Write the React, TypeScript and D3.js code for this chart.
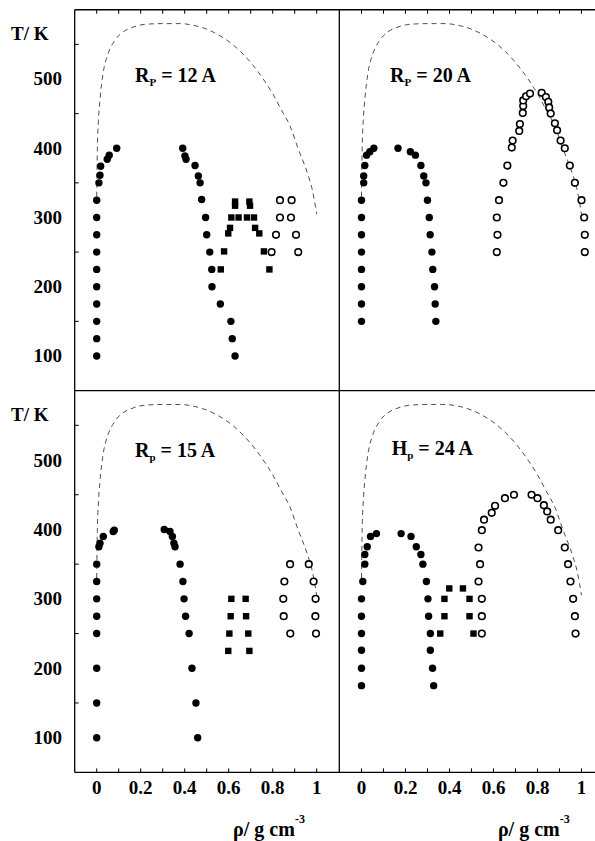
import React from "react";
import * as d3 from "d3";

// bulk coexistence curve (dashed), rho / g cm-3 vs T / K
const bulkCurve: [number, number][] = [
  [0, 330], [0.003, 400], [0.008, 440], [0.015, 470], [0.03, 510], [0.05, 535],
  [0.083, 556], [0.12, 568], [0.166, 575], [0.22, 579], [0.3, 580], [0.38, 580],
  [0.447, 577], [0.5, 572], [0.546, 565], [0.621, 549], [0.697, 525], [0.757, 500],
  [0.803, 477], [0.84, 455], [0.879, 432], [0.915, 400], [0.96, 362], [0.98, 340],
  [1.0, 305],
];

// R_P = 12 A
const r12Filled: [number, number][] = [
  [0, 100], [0, 125], [0, 150], [0, 175], [0, 200], [0, 225], [0, 250], [0, 275],
  [0, 300], [0, 325], [0.01, 350], [0.015, 361], [0.018, 374], [0.048, 384],
  [0.057, 390], [0.091, 400],
  [0.391, 400], [0.401, 389], [0.406, 384], [0.447, 375], [0.462, 360], [0.47, 350],
  [0.477, 326], [0.495, 300], [0.5, 275], [0.514, 250], [0.523, 225], [0.524, 200],
  [0.562, 175], [0.61, 150], [0.616, 125], [0.629, 100],
];
const r12Squares: [number, number][] = [
  [0.629, 323], [0.629, 317], [0.694, 323], [0.697, 317], [0.612, 300], [0.645, 300],
  [0.683, 300], [0.715, 300], [0.606, 285], [0.72, 285], [0.598, 277], [0.739, 277],
  [0.579, 251], [0.76, 251], [0.564, 225], [0.785, 225],
];
const r12Open: [number, number][] = [
  [0.833, 325], [0.886, 325], [0.833, 300], [0.883, 300], [0.815, 275], [0.906, 275],
  [0.795, 250], [0.916, 250],
];

// R_P = 20 A
const r20Filled: [number, number][] = [
  [0, 150], [0, 175], [0, 200], [0, 225], [0, 250], [0, 275], [0, 300], [0, 325],
  [0.01, 350], [0.01, 360], [0.015, 375], [0.023, 390], [0.038, 395], [0.056, 400],
  [0.166, 400], [0.222, 395], [0.245, 390], [0.27, 375], [0.283, 360], [0.293, 350],
  [0.3, 325], [0.308, 300], [0.312, 275], [0.32, 250], [0.324, 225], [0.332, 200],
  [0.335, 175], [0.338, 150],
];
const r20Open: [number, number][] = [
  [0.615, 250], [0.618, 275], [0.615, 300], [0.625, 325], [0.645, 350], [0.663, 375],
  [0.683, 401], [0.687, 411], [0.717, 425], [0.72, 435], [0.733, 451], [0.735, 461],
  [0.735, 469], [0.748, 475], [0.766, 479],
  [0.819, 480], [0.838, 474], [0.849, 467], [0.853, 459], [0.86, 450], [0.879, 436],
  [0.889, 426], [0.905, 411], [0.924, 400], [0.947, 375], [0.97, 350], [1.0, 325],
  [1.012, 300], [1.015, 275], [1.015, 250],
];

// R_p = 15 A
const r15Filled: [number, number][] = [
  [0, 100], [0, 150], [0, 200], [0, 250], [0, 275], [0, 300], [0, 325], [0, 350],
  [0.01, 375], [0.015, 380], [0.03, 390], [0.075, 397], [0.08, 399],
  [0.307, 400], [0.333, 397], [0.344, 390], [0.351, 380], [0.356, 375], [0.379, 350],
  [0.392, 325], [0.397, 300], [0.404, 275], [0.42, 250], [0.433, 200], [0.451, 150],
  [0.459, 100],
];
const r15Squares: [number, number][] = [
  [0.612, 300], [0.677, 300], [0.609, 275], [0.679, 275], [0.603, 250], [0.689, 250],
  [0.598, 225], [0.694, 225],
];
const r15Open: [number, number][] = [
  [0.879, 350], [0.964, 350], [0.853, 325], [0.986, 325], [0.848, 300], [0.995, 300],
  [0.85, 275], [0.994, 275], [0.88, 250], [0.997, 250],
];

// H_p = 24 A
const h24Filled: [number, number][] = [
  [0, 175], [0, 200], [0, 226], [0, 250], [0, 275], [0, 300], [0.006, 325],
  [0.015, 350], [0.015, 364], [0.026, 375], [0.041, 390], [0.068, 394],
  [0.18, 394], [0.225, 390], [0.249, 375], [0.27, 364], [0.279, 350], [0.295, 325],
  [0.302, 300], [0.305, 275], [0.313, 250], [0.313, 226], [0.323, 200], [0.328, 175],
];
const h24Squares: [number, number][] = [
  [0.399, 315], [0.461, 315], [0.377, 300], [0.491, 300], [0.377, 275], [0.491, 275],
  [0.358, 250], [0.509, 250],
];
const h24Open: [number, number][] = [
  [0.547, 250], [0.547, 275], [0.547, 300], [0.532, 325], [0.539, 350], [0.532, 374],
  [0.547, 399], [0.557, 414], [0.592, 424], [0.607, 434], [0.652, 445], [0.693, 450],
  [0.773, 450], [0.8, 445], [0.829, 435], [0.844, 426], [0.86, 414], [0.894, 399],
  [0.924, 374], [0.939, 350], [0.95, 325], [0.962, 300], [0.97, 275], [0.973, 250],
];

const rhoTicks = [0, 0.1, 0.2, 0.3, 0.4, 0.5, 0.6, 0.7, 0.8, 0.9, 1.0];
const rhoLabels = [0, 0.2, 0.4, 0.6, 0.8, 1];
const tempLabels = [100, 200, 300, 400, 500];
const tempTicks = [150, 250, 350, 450, 550];

const FONT = "'Liberation Serif', 'Times New Roman', Times, serif";
const LEFT = 74.7;
const COL_W = 264.8;
const ROWS = [
  [390.6, 9.75],
  [772.4, 390.6],
];

type Pt = [number, number];

function Panel(props: {
  col: number;
  row: number;
  filled: Pt[];
  squares: Pt[];
  open: Pt[];
  head: string;
  sub: string;
  tail: string;
  titleAt: Pt;
}) {
  const { col, row, filled, squares, open, head, sub, tail, titleAt } = props;
  const x = d3
    .scaleLinear()
    .domain([-0.1, 1.1])
    .range([LEFT + col * COL_W, LEFT + col * COL_W + 264]);
  const y = d3.scaleLinear().domain([50, 600]).range(ROWS[row]);
  const line = d3
    .line<Pt>()
    .x((d) => x(d[0]))
    .y((d) => y(d[1]))
    .curve(d3.curveMonotoneX);

  return (
    <g>
      {row === 0
        ? rhoTicks.map((t) => (
            <line key={"tt" + t} x1={x(t)} x2={x(t)} y1={y(600)} y2={y(600) + 4} stroke="#000" strokeWidth={1} />
          ))
        : rhoTicks.map((t) => (
            <line key={"bt" + t} x1={x(t)} x2={x(t)} y1={y(50)} y2={y(50) - 4} stroke="#000" strokeWidth={1} />
          ))}
      {row === 1 &&
        rhoLabels.map((t) => (
          <text key={"bl" + t} x={x(t)} y={y(50) + 22} textAnchor="middle" fontFamily={FONT} fontWeight="bold" fontSize={19}>
            {String(t)}
          </text>
        ))}
      {col === 0 &&
        tempTicks.map((t) => (
          <line key={"lt" + t} x1={x(-0.1)} x2={x(-0.1) + 4} y1={y(t)} y2={y(t)} stroke="#000" strokeWidth={1} />
        ))}
      {col === 0 &&
        tempLabels.map((t) => (
          <text key={"ll" + t} x={62} y={y(t) + 6.5} textAnchor="end" fontFamily={FONT} fontWeight="bold" fontSize={19}>
            {t}
          </text>
        ))}
      {col === 0 && (
        <text x={11} y={y(565) + 6.5} fontFamily={FONT} fontWeight="bold" fontSize={19}>
          T/ K
        </text>
      )}
      <path d={line(bulkCurve) || ""} fill="none" stroke="#222" strokeWidth={0.8} strokeDasharray="5,4" />
      {filled.map((d, i) => (
        <circle key={"f" + i} cx={x(d[0])} cy={y(d[1])} r={3.7} fill="#000" />
      ))}
      {squares.map((d, i) => (
        <rect key={"s" + i} x={x(d[0]) - 3.2} y={y(d[1]) - 3.2} width={6.4} height={6.4} fill="#000" />
      ))}
      {open.map((d, i) => (
        <circle key={"o" + i} cx={x(d[0])} cy={y(d[1])} r={3.3} fill="#fff" stroke="#000" strokeWidth={1.6} />
      ))}
      <text x={x(titleAt[0])} y={y(titleAt[1])} fontFamily={FONT} fontWeight="bold" fontSize={20}>
        {head}
        <tspan fontSize={11} dy={4}>{sub}</tspan>
        <tspan dy={-4}>{tail}</tspan>
      </text>
      {row === 1 && (
        <text x={x(0.62)} y={836} fontFamily={FONT} fontWeight="bold" fontSize={20}>
          ρ/ g cm
          <tspan fontSize={12} dy={-13}>-3</tspan>
        </text>
      )}
    </g>
  );
}

export default function App() {
  return (
    <svg
      width={595}
      height={841}
      viewBox="0 0 595 841"
      style={{ position: "absolute", left: 0, top: 0, background: "#fff" }}
    >
      <rect x={0} y={0} width={595} height={841} fill="#fff" />
      <Panel col={0} row={0} filled={r12Filled} squares={r12Squares} open={r12Open} head="R" sub="P" tail=" = 12 A" titleAt={[0.174, 495]} />
      <Panel col={1} row={0} filled={r20Filled} squares={[]} open={r20Open} head="R" sub="P" tail=" = 20 A" titleAt={[0.13, 496]} />
      <Panel col={0} row={1} filled={r15Filled} squares={r15Squares} open={r15Open} head="R" sub="p" tail=" = 15 A" titleAt={[0.174, 505]} />
      <Panel col={1} row={1} filled={h24Filled} squares={h24Squares} open={h24Open} head="H" sub="p" tail=" = 24 A" titleAt={[0.137, 507]} />
      {/* frame */}
      <g stroke="#000" strokeWidth={1.3} fill="none">
        <line x1={LEFT} x2={LEFT} y1={9.75} y2={772.4} />
        <line x1={LEFT} x2={595} y1={9.75} y2={9.75} />
        <line x1={LEFT} x2={595} y1={390.6} y2={390.6} />
        <line x1={LEFT} x2={595} y1={772.4} y2={772.4} />
        <line x1={339.3} x2={339.3} y1={9.75} y2={772.4} />
      </g>
    </svg>
  );
}
